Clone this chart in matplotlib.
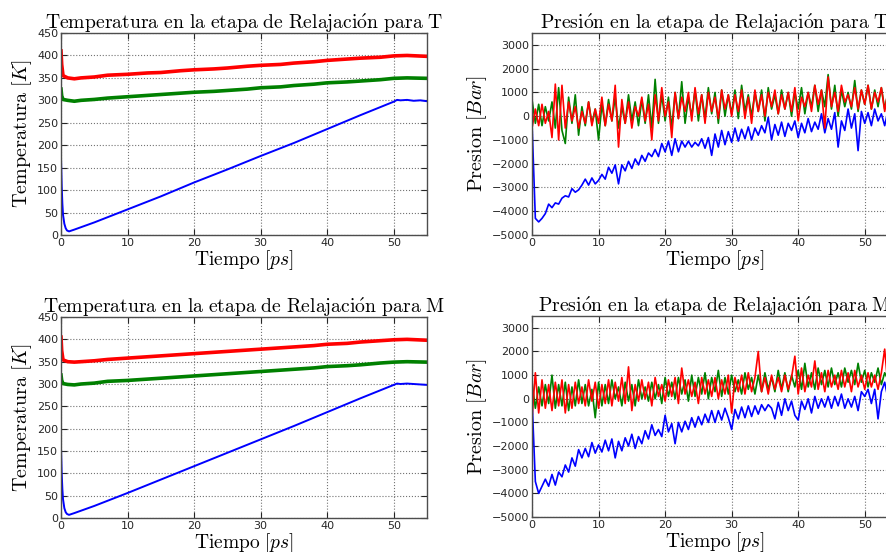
import numpy as np
from matplotlib import pyplot as plt

plt.rcParams['mathtext.fontset'] = 'cm'

# time axis of the pressure runs, one sample every 0.5 ps
t_pres = np.arange(111) * 0.5

# ---------- temperature, run T ----------
t_temp_blue_T = [0, 0.1, 0.2, 0.3, 0.5, 0.7, 0.9, 1.2, 2, 5, 10, 15, 20, 25, 30, 35, 40, 45, 48,
                 50, 50.5, 51, 52, 53, 54, 55]
temp_blue_T = [170, 110, 70, 45, 25, 15, 10, 8, 12, 28, 57, 86, 117, 146, 176, 205, 236, 267, 285,
               297, 301, 300, 301, 299, 300, 298]
t_temp_T = [0, 0.1, 0.3, 1, 2, 3, 5, 7, 10, 13, 15, 18, 20, 23, 25, 28, 30, 33, 35, 38, 40, 43, 45,
            48, 50, 52, 55]
temp_red_T = [410, 380, 355, 350, 348, 350, 352, 356, 358, 361, 362, 366, 368, 370, 372, 376, 378,
              380, 383, 386, 389, 392, 394, 396, 399, 400, 398]
temp_green_T = [325, 310, 302, 300, 298, 300, 302, 305, 308, 311, 313, 316, 318, 320, 322, 325, 328,
                330, 333, 336, 339, 341, 343, 346, 349, 350, 349]

# ---------- temperature, run M ----------
temp_blue_M = [155, 100, 65, 42, 22, 13, 9, 7, 11, 27, 56, 86, 116, 146, 176, 206, 237, 268, 286,
               298, 301, 300, 301, 300, 299, 298]
temp_red_M = [405, 375, 354, 350, 349, 350, 352, 355, 358, 361, 363, 366, 368, 371, 373, 376, 378,
              381, 383, 386, 389, 391, 394, 397, 399, 400, 398]
temp_green_M = [320, 308, 301, 299, 298, 300, 302, 306, 308, 311, 313, 316, 318, 321, 323, 326, 328,
                331, 333, 336, 339, 341, 343, 347, 349, 350, 349]

# ---------- pressure, run T ----------
pres_blue_T = [-300, -4300, -4450, -4300, -4100, -3700, -3850, -3650, -3700, -3450,
               -3350, -3400, -3050, -3200, -3100, -2900, -2650, -2900, -2600, -2850,
               -2700, -2450, -2650, -2150, -2400, -2050, -2850, -2050, -2300, -1900,
               -2200, -1800, -2050, -1650, -1900, -1550, -1700, -1400, -1700, -1150,
               -1500, -1050, -1650, -950, -1500, -1050, -1300, -1050, -1300, -1100,
               -1250, -950, -1350, -900, -1650, -750, -1300, -600, -1200, -650,
               -1100, -500, -1050, -550, -950, -450, -1000, -500, -800, -400,
               -700, -50, -1000, -350, -800, -250, -850, -300, -600, -200,
               -900, -300, -700, -100, -650, -250, -550, 100, -700, -100,
               -550, 150, -1300, -200, -600, 300, -500, 100, -1450, 200,
               -300, 150, -400, 300, -200, 100, -400, 250, -200, 100, -300]
pres_green_T = [700, -300, 500, -400, 400, -200, 600, -500, 1200, -600,
                -1150, 800, -300, 900, -800, 400, -400, 600, -300, 300,
                -1000, 500, -400, 700, -200, 800, -500, 400, -300, 900,
                -200, 600, -400, 700, -300, 900, -500, 1550, -300, 900,
                -200, 800, -500, 1000, -100, 1450, -300, 800, 0, 1100,
                -200, 900, -100, 1200, 100, 1000, -300, 1100, 0, 900,
                100, 1100, -100, 1300, 200, 900, 0, 1000, 200, 1100,
                -200, 1200, 300, 900, 100, 1100, 300, 1000, 0, 1000,
                300, 1200, 100, 1000, 400, 1300, 200, 1100, 400, 1750,
                300, 1300, 0, 1100, 400, 1000, 300, 1500, 200, 1100,
                500, 1300, 300, 1100, 400, 1200, 300, 1000, 500, 1100, 400]
pres_red_T = [-500, 300, -400, 500, -300, 200, -900, 1350, -1000, 1300,
              -500, 600, -200, 400, -500, 200, -300, 600, -400, 300,
              -300, 800, -400, 500, -200, 1300, -1300, 700, -300, 600,
              -500, 400, 0, 800, -200, 500, -1000, 900, -200, 1200,
              0, 600, -900, 1000, -100, 800, 200, 1000, -200, 1200,
              100, 900, -300, 1000, 200, 800, -100, 1100, 300, 900,
              0, 900, 200, 1100, -100, 800, -300, 1100, 200, 900,
              0, 1000, 400, 1100, 100, 900, 300, 1000, 200, 1200,
              -200, 800, 400, 1000, 200, 1300, 500, 1100, -500, 1650,
              400, 1000, 200, 1300, 600, 900, 400, 1200, 300, 1100,
              500, 1300, 300, 1000, 600, 1200, 200, 1100, 400, 1000, 300]

# ---------- pressure, run M ----------
pres_blue_M = [0, -3500, -4000, -3700, -3400, -3700, -3200, -3650, -3100, -3300,
               -2800, -3100, -2500, -2850, -2150, -2500, -2100, -2450, -1850, -2300,
               -1950, -2250, -1750, -2200, -1700, -2500, -1800, -2200, -1650, -2000,
               -1500, -2100, -1600, -1900, -1350, -1700, -1100, -1550, -1300, -1600,
               -700, -1400, -1050, -1900, -1000, -1400, -950, -1300, -800, -1200,
               -750, -1100, -650, -1000, -500, -1000, -500, -900, -400, -800,
               -1300, -450, -850, -350, -800, -300, -750, -300, -650, -250,
               -500, -250, -400, -850, -150, -700, 0, -500, -100, -700,
               -900, -100, -450, 0, -600, 100, -400, 0, -350, 100,
               -400, 100, -300, 200, -400, 0, -350, 100, -500, 300,
               100, 400, -200, 400, -850, 300, 700, 0, 300, -200, 200]
pres_green_M = [700, -400, 500, -300, 600, -200, 1000, -400, 600, -300,
                700, -500, 500, -300, 800, -200, 600, -300, 400, -800,
                700, -300, 600, -200, 800, 0, 500, -300, 700, -100,
                600, -300, 800, 0, 500, -100, 700, 0, 600, -200,
                900, 100, 700, 0, 900, 200, 800, -100, 1000, 100,
                900, 200, 1100, 0, 900, 300, 1200, 100, 900, 200,
                1000, 300, 800, 200, 1100, 400, 900, 200, 1000, 300,
                1100, 400, 900, 300, 1200, 400, 1100, 300, 1000, 500,
                1200, 400, 1500, 500, 1100, 400, 1300, 600, 1200, 500,
                1300, 600, 1100, 500, 1300, 700, 1200, 600, 1500, 700,
                1200, 500, 1100, 700, 1300, 600, 1100, 800, 1200, 700, 1100]
pres_red_M = [-800, 1100, -600, 800, -400, 600, -500, 700, -300, 800,
              -600, 600, -400, 700, -200, 500, -300, 800, -100, 700,
              -400, 600, -200, 800, -300, 700, -100, 900, -200, 1350,
              -500, 600, -100, 800, 0, 700, -300, 900, 100, 600,
              -100, 800, 100, 900, -200, 1300, 200, 800, 100, 700,
              -200, 900, 200, 800, 100, 900, 0, 800, 200, 1000,
              -600, 900, 300, 1000, 200, 1100, 300, 900, 2000, 300,
              900, 200, 1000, 400, 900, 300, 1000, 400, 900, 1800,
              200, 1300, 300, 1000, 500, 1600, 400, 1100, 300, 1200,
              500, 1000, 400, 1200, 500, 1100, 300, 1200, 500, 1000,
              400, 1100, 500, 1000, 400, 1100, 2100, 500, 1200, 400, 900]


def config(axes, title, ylabel, ylim, yticks):
    axes.set_title(title, fontsize=14.2, pad=3)
    axes.set_xlabel(r'$\mathrm{Tiempo}\ [ps]$', fontsize=14, labelpad=0)
    axes.set_ylabel(ylabel, fontsize=14.5, labelpad=2)
    axes.set_xlim(0, 55)
    axes.set_ylim(*ylim)
    axes.set_xticks([0, 10, 20, 30, 40, 50])
    axes.set_yticks(yticks)
    axes.grid(True, linestyle=':', color='0.45', linewidth=0.8)
    axes.tick_params(direction='in', length=4, width=0.8, labelsize=8, pad=2,
                     top=True, right=True, colors='0.15')
    for spine in axes.spines.values():
        spine.set_color('0.3')
        spine.set_linewidth(1.0)


fig = plt.figure(figsize=(8.87, 5.52), dpi=100)

ax_tt = fig.add_axes([0.0688, 0.5743, 0.4126, 0.3659])
ax_pt = fig.add_axes([0.5998, 0.5743, 0.4126, 0.3659])
ax_tm = fig.add_axes([0.0688, 0.0616, 0.4126, 0.3641])
ax_pm = fig.add_axes([0.5998, 0.0634, 0.4126, 0.3641])

temp_label = r'$\mathrm{Temperatura}\ [K]$'
pres_label = r'$\mathrm{Presion}\ [Bar]$'
temp_ticks = range(0, 451, 50)
pres_ticks = range(-5000, 3001, 1000)

# temperature panels
for axes, blue, red, green, who in [(ax_tt, temp_blue_T, temp_red_T, temp_green_T, 'T'),
                                     (ax_tm, temp_blue_M, temp_red_M, temp_green_M, 'M')]:
    axes.plot(t_temp_blue_T, blue, color='b', linewidth=1.4)
    axes.plot(t_temp_T, green, color='g', linewidth=2.6)
    axes.plot(t_temp_T, red, color='r', linewidth=2.6)
    config(axes, r'$\mathrm{Temperatura\ en\ la\ etapa\ de\ Relajaci\acute{o}n\ para\ ' + who + '}$',
           temp_label, (0, 450), temp_ticks)

# pressure panels
for axes, blue, green, red, who in [(ax_pt, pres_blue_T, pres_green_T, pres_red_T, 'T'),
                                     (ax_pm, pres_blue_M, pres_green_M, pres_red_M, 'M')]:
    axes.plot(t_pres, blue, color='b', linewidth=1.2)
    axes.plot(t_pres, green, color='g', linewidth=1.2)
    axes.plot(t_pres, red, color='r', linewidth=1.2)
    config(axes, r'$\mathrm{Presi\acute{o}n\ en\ la\ etapa\ de\ Relajaci\acute{o}n\ para\ ' + who + '}$',
           pres_label, (-5000, 3500), pres_ticks)

fig.savefig('out.png', dpi=100)
